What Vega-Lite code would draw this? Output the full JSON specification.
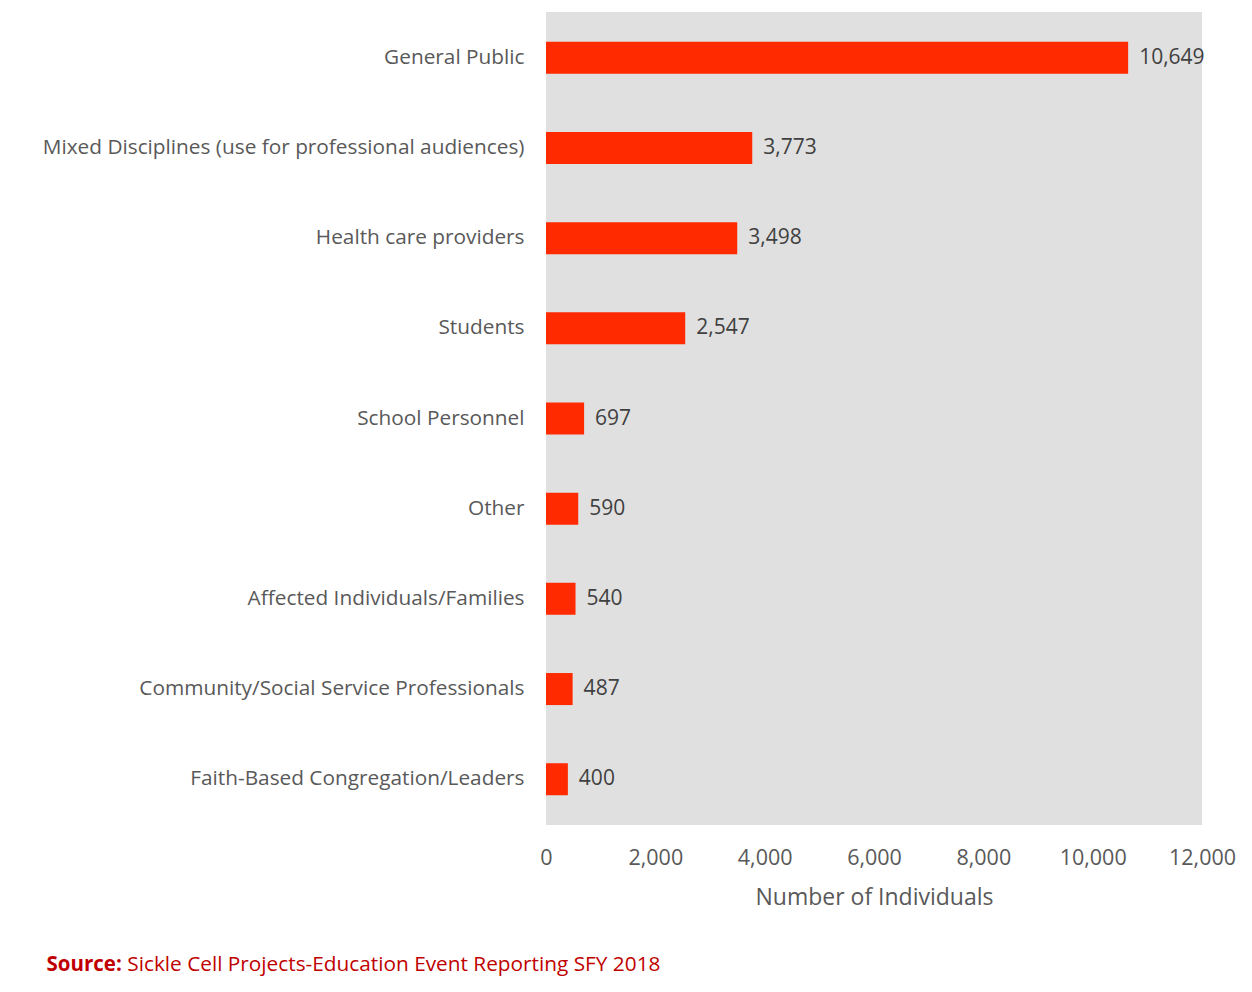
{
  "$schema": "https://vega.github.io/schema/vega-lite/v6.json",
  "width": 656,
  "height": 813,
  "autosize": {"type": "none"},
  "padding": {"left": 546, "top": 12, "right": 50, "bottom": 167},
  "background": "white",
  "config": {
    "view": {"fill": "#e0e0e0", "stroke": null},
    "font": "Open Sans"
  },
  "title": {
    "text": "Sickle Cell Projects-Education Event Reporting SFY 2018",
    "orient": "bottom",
    "anchor": "start",
    "dx": 85,
    "offset": 0,
    "dy": -20,
    "font": "Open Sans",
    "fontSize": 20.8,
    "fontWeight": "normal",
    "color": "#c00000"
  },
  "data": {
    "values": [
      {"group": "General Public", "n": 10649},
      {"group": "Mixed Disciplines (use for professional audiences)", "n": 3773},
      {"group": "Health care providers", "n": 3498},
      {"group": "Students", "n": 2547},
      {"group": "School Personnel", "n": 697},
      {"group": "Other", "n": 590},
      {"group": "Affected Individuals/Families", "n": 540},
      {"group": "Community/Social Service Professionals", "n": 487},
      {"group": "Faith-Based Congregation/Leaders", "n": 400}
    ]
  },
  "encoding": {
    "y": {
      "field": "group",
      "type": "nominal",
      "sort": null,
      "scale": {"paddingInner": 0.645, "paddingOuter": 0.33},
      "axis": {
        "title": "Source:",
        "titleAngle": 0,
        "titleX": -500,
        "titleY": 958,
        "titleAlign": "left",
        "titleBaseline": "alphabetic",
        "titleFont": "Open Sans",
        "titleFontSize": 20.5,
        "titleFontWeight": "bold",
        "titleColor": "#c00000",
        "domain": false,
        "ticks": false,
        "labelPadding": 22,
        "labelFont": "Open Sans",
        "labelFontSize": 20.8,
        "labelColor": "#595959",
        "labelLimit": 600
      }
    },
    "x": {
      "field": "n",
      "type": "quantitative",
      "scale": {"domain": [0, 12000], "nice": false},
      "axis": {
        "title": "Number of Individuals",
        "values": [0, 2000, 4000, 6000, 8000, 10000, 12000],
        "format": ",d",
        "grid": false,
        "domain": false,
        "ticks": false,
        "labelFlush": false,
        "labelOverlap": false,
        "labelPadding": 22,
        "labelFont": "Open Sans",
        "labelFontSize": 21.5,
        "labelColor": "#595959",
        "titleFont": "Open Sans",
        "titleFontSize": 23,
        "titleFontWeight": "normal",
        "titleColor": "#595959",
        "titlePadding": 18
      }
    }
  },
  "layer": [
    {"mark": {"type": "bar", "color": "#ff2a00"}},
    {
      "mark": {"type": "text", "align": "left", "baseline": "middle", "dx": 11, "font": "Open Sans", "fontSize": 21, "color": "#404040"},
      "encoding": {"text": {"field": "n", "type": "quantitative", "format": ",d"}}
    }
  ]
}
